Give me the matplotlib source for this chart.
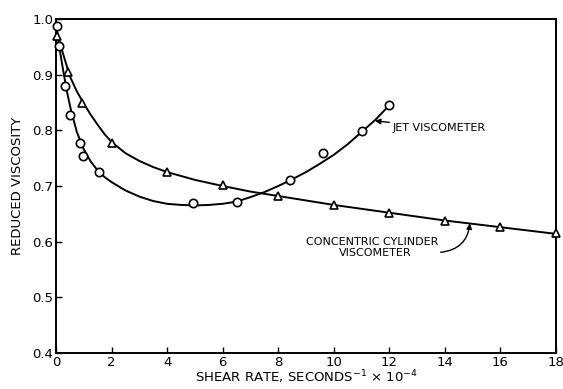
import matplotlib
matplotlib.use("Agg")
import matplotlib.pyplot as plt

# Measured points: jet viscometer (circles)
jet_x = [0.05, 0.1, 0.32, 0.52, 0.86, 0.98, 1.54, 4.94, 6.5, 8.42, 9.62, 11.0, 11.99]
jet_y = [0.988, 0.951, 0.880, 0.828, 0.777, 0.753, 0.725, 0.669, 0.672, 0.711, 0.760, 0.799, 0.845]

# Measured points: concentric cylinder viscometer (triangles)
cc_x = [0.05, 0.44, 0.95, 2.0, 3.98, 6.0, 8.0, 10.0, 12.0, 13.99, 15.97, 17.99]
cc_y = [0.970, 0.905, 0.850, 0.778, 0.725, 0.701, 0.682, 0.666, 0.652, 0.638, 0.626, 0.615]

# Hand-drawn fit curves
jet_curve_x = [0, 0.1, 0.25, 0.4, 0.55, 0.75, 1.0, 1.25, 1.5, 1.75, 2, 2.5, 3, 3.5, 4,
               4.5, 5, 5.5, 6, 6.5, 7, 7.5, 8, 8.5, 9, 9.5, 10, 10.5, 11, 11.5, 12]
jet_curve_y = [0.99, 0.955, 0.91, 0.868, 0.834, 0.797, 0.766, 0.744, 0.728, 0.716,
               0.707, 0.692, 0.681, 0.673, 0.668, 0.666, 0.665, 0.666, 0.668, 0.672,
               0.680, 0.689, 0.700, 0.712, 0.725, 0.740, 0.756, 0.775, 0.797, 0.819,
               0.845]

cc_curve_x = [0, 0.15, 0.3, 0.5, 0.75, 1, 1.25, 1.5, 1.75, 2, 2.5, 3, 3.5, 4, 5, 6, 7,
              8, 9, 10, 12, 14, 16, 18]
cc_curve_y = [0.985, 0.955, 0.93, 0.897, 0.870, 0.848, 0.828, 0.810, 0.793, 0.779,
              0.759, 0.745, 0.734, 0.725, 0.711, 0.700, 0.690, 0.682, 0.674, 0.666,
              0.652, 0.638, 0.626, 0.614]

x_ticks = [0, 2, 4, 6, 8, 10, 12, 14, 16, 18]
y_ticks = [0.4, 0.5, 0.6, 0.7, 0.8, 0.9, 1.0]
y_tick_labels = ["0.4", "0.5", "0.6", "0.7", "0.8", "0.9", "1.0"]

fig = plt.figure(figsize=(5.63, 3.89), dpi=100)
ax = fig.add_axes([56 / 563, 1 - 353 / 389, 500 / 563, 334 / 389])

ax.plot(jet_curve_x, jet_curve_y, color="black", lw=1.4, zorder=2)
ax.plot(cc_curve_x, cc_curve_y, color="black", lw=1.4, zorder=2)
ax.plot(jet_x, jet_y, linestyle="none", marker="o", ms=6, mfc="white",
        mec="black", mew=1.2, zorder=3, clip_on=False)
ax.plot(cc_x, cc_y, linestyle="none", marker="^", ms=6, mfc="white",
        mec="black", mew=1.2, zorder=3, clip_on=False)

ax.set_xlim(0, 18)
ax.set_ylim(0.4, 1.0)
ax.set_xticks(x_ticks)
ax.set_xticklabels([str(v) for v in x_ticks])
ax.set_yticks(y_ticks)
ax.set_yticklabels(y_tick_labels)
ax.tick_params(direction="in", length=4, width=1, labelsize=9.5, pad=2)
for s in ax.spines.values():
    s.set_linewidth(1.4)

ax.set_xlabel(r"SHEAR RATE, SECONDS$^{-1}$ $\times$ 10$^{-4}$", fontsize=9.5, labelpad=0)
ax.set_ylabel("REDUCED VISCOSITY", fontsize=9.5, labelpad=6)

ax.annotate("JET VISCOMETER", xy=(11.48, 0.817), xytext=(12.1, 0.805),
            fontsize=8, va="center", ha="left",
            arrowprops=dict(arrowstyle="-|>", color="black", lw=1.0,
                            shrinkA=0, shrinkB=0, mutation_scale=8))

ax.text(11.37, 0.599, "CONCENTRIC CYLINDER", fontsize=8, ha="center", va="center")
ax.text(11.5, 0.580, "VISCOMETER", fontsize=8, ha="center", va="center")
ax.annotate("", xy=(14.9, 0.633), xytext=(13.85, 0.581),
            arrowprops=dict(arrowstyle="-|>", color="black", lw=1.0,
                            shrinkA=0, shrinkB=0, mutation_scale=8,
                            connectionstyle="arc3,rad=0.4"))

fig.savefig("out.png", dpi=100)
